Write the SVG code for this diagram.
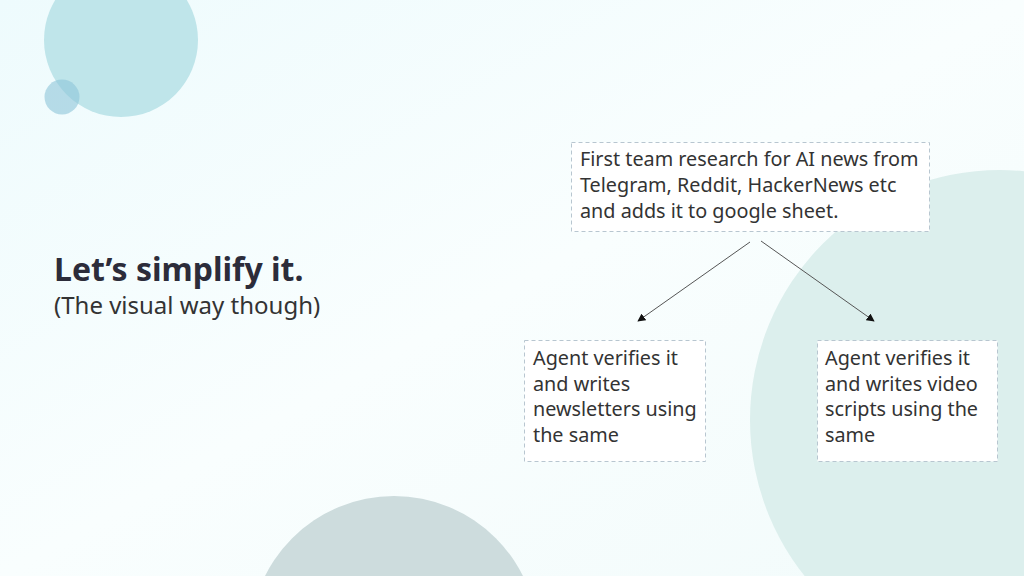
<svg xmlns="http://www.w3.org/2000/svg" width="1024" height="576" viewBox="0 0 1024 576">
  <defs>
    <linearGradient id="bg" x1="0" y1="0" x2="1" y2="1">
      <stop offset="0" stop-color="#eefbfd"/>
      <stop offset="0.5" stop-color="#f9fefe"/>
      <stop offset="1" stop-color="#f2fbfb"/>
    </linearGradient>
    <marker id="arr" viewBox="0 0 10 10" refX="9" refY="5" markerWidth="8" markerHeight="8" markerUnits="userSpaceOnUse" orient="auto">
      <path d="M0,0 L10,5 L0,10 z" fill="#111"/>
    </marker>
    <style>
      .box { fill: #ffffff; stroke: #b8c6d0; stroke-width: 1; stroke-dasharray: 4 3; }
      .txt { font-family: "Noto Sans", "Open Sans", sans-serif; font-size: 19.8px; fill: #333333; }
      .conn { stroke: #555; stroke-width: 1; fill: none; marker-end: url(#arr); }
    </style>
  </defs>
  <rect width="1024" height="576" fill="url(#bg)"/>
  <circle cx="121" cy="40" r="77" fill="#bfe5ea"/>
  <circle cx="62" cy="97" r="17.5" fill="#8ec4d8" fill-opacity="0.6"/>
  <circle cx="1000" cy="420" r="250" fill="#dcefed"/>
  <circle cx="394" cy="640" r="144" fill="#cddcdd"/>

  <g id="title">
    <text x="54" y="281" font-family="'Noto Sans', 'Open Sans', sans-serif" font-size="32" font-weight="bold" fill="#2c2c3a">Let’s simplify it.</text>
    <text x="54" y="314" font-family="'Noto Sans', 'Open Sans', sans-serif" font-size="24" fill="#333333">(The visual way though)</text>
  </g>

  <g id="node-top">
    <rect class="box" x="571.5" y="142.5" width="358" height="89"/>
    <text class="txt" x="580" y="166">First team research for AI news from</text>
    <text class="txt" x="580" y="192">Telegram, Reddit, HackerNews etc</text>
    <text class="txt" x="580" y="218">and adds it to google sheet.</text>
  </g>

  <g id="node-left">
    <rect class="box" x="524.5" y="340.5" width="181" height="121"/>
    <text class="txt" x="533" y="365">Agent verifies it</text>
    <text class="txt" x="533" y="391">and writes</text>
    <text class="txt" x="533" y="416">newsletters using</text>
    <text class="txt" x="533" y="442">the same</text>
  </g>

  <g id="node-right">
    <rect class="box" x="817.5" y="340.5" width="180" height="121"/>
    <text class="txt" x="825" y="365">Agent verifies it</text>
    <text class="txt" x="825" y="391">and writes video</text>
    <text class="txt" x="825" y="416">scripts using the</text>
    <text class="txt" x="825" y="442">same</text>
  </g>

  <g id="connectors">
    <line class="conn" x1="750" y1="242" x2="638" y2="321"/>
    <line class="conn" x1="761" y1="241" x2="874" y2="321"/>
  </g>
</svg>
